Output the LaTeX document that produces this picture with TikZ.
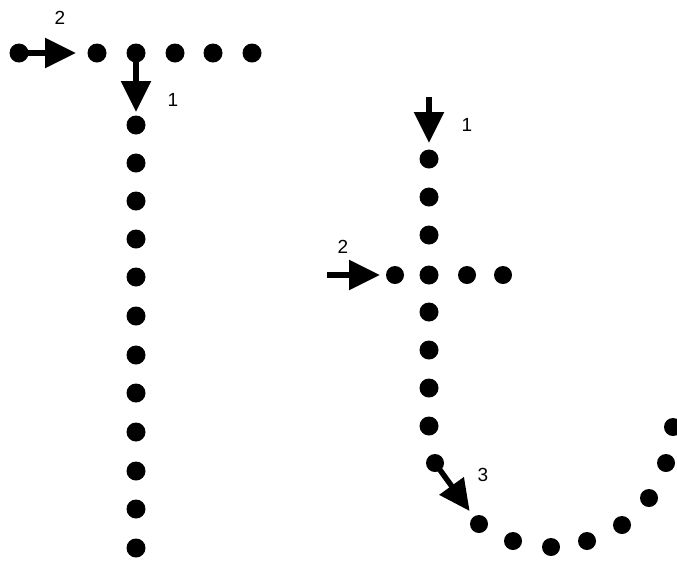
\documentclass[tikz,border=0pt]{standalone}
\usepackage{fontspec}
\setmainfont{Liberation Sans}
\usetikzlibrary{arrows.meta}
\begin{document}
\begin{tikzpicture}[x=1pt,y=-1pt,
  dot/.style={circle,fill=black,inner sep=0pt,minimum size=19pt},
  sdot/.style={circle,fill=black,inner sep=0pt,minimum size=18pt},
  arr/.style={line width=5.5pt,-{Triangle[length=31pt,width=29pt]}},
  lbl/.style={font=\fontsize{19pt}{19pt}\selectfont,inner sep=0pt}]
\useasboundingbox (0,0) rectangle (677,566);
% left figure: horizontal row
\node[dot] (h0) at (19,53) {};
\node[dot] (h1) at (97,53) {};
\node[dot] (h2) at (136,53) {};
\node[dot] (h3) at (175,53) {};
\node[dot] (h4) at (213,53) {};
\node[dot] (h5) at (252,53) {};
% vertical column
\foreach \i/\y in {1/125,2/163,3/201,4/239,5/277,6/316,7/355,8/393,9/432,10/471,11/509,12/548}
  \node[dot] (v\i) at (136,\y) {};
\draw[arr,shorten >=21pt] (h0.center) -- (h1.center);
\draw[arr,shorten >=13pt] (h2.center) -- (v1.center);
\node[lbl] (l2a) at (60,18) {2};
\node[lbl] (l1a) at (173,100) {1};
% right figure
\foreach \i/\y in {1/159,2/197,3/235,4/275,5/312,6/350,7/388,8/426}
  \node[dot] (r\i) at (429,\y) {};
\node[sdot] (rh1) at (395,275) {};
\node[sdot] (rh2) at (467,275) {};
\node[sdot] (rh3) at (503,275) {};
% curve
\node[sdot] (c0) at (435,463) {};
\node[sdot] (c1) at (479,524) {};
\node[sdot] (c2) at (513,541) {};
\node[sdot] (c3) at (551,547) {};
\node[sdot] (c4) at (587,541) {};
\node[sdot] (c5) at (622,525) {};
\node[sdot] (c6) at (649,498) {};
\node[sdot] (c7) at (666,463) {};
\node[sdot] (c8) at (673,427) {};
\coordinate (s1) at (429,97);
\coordinate (s2) at (327,275);
\draw[arr,shorten >=16pt] (s1) -- (r1.center);
\draw[arr,shorten >=15pt] (s2) -- (rh1.center);
\draw[arr,shorten >=16pt] (c0.center) -- (c1.center);
\node[lbl] (l1b) at (467,125) {1};
\node[lbl] (l2b) at (343,247) {2};
\node[lbl] (l3) at (483,475) {3};
\end{tikzpicture}
\end{document}
